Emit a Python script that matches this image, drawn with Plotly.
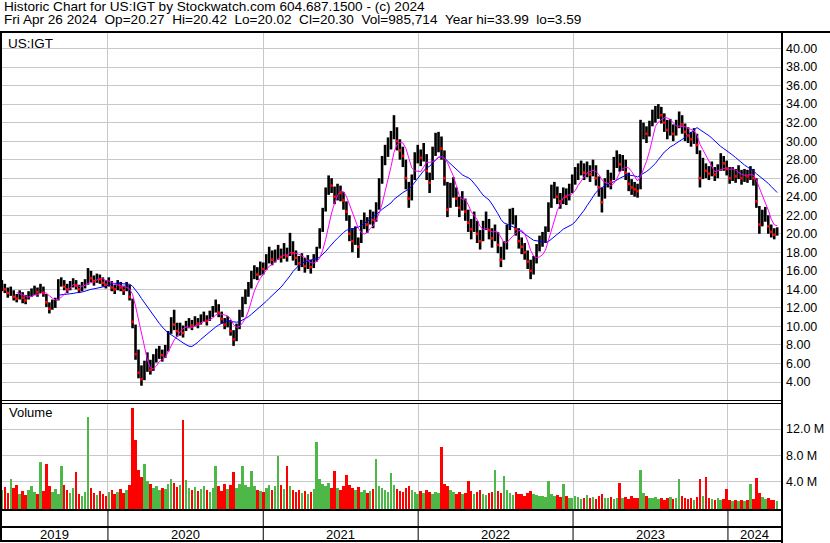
import pandas as pd
import plotly.graph_objects as go

# ---------------- data (weekly samples) ----------------
week_close = [
    14.3,14.0,13.6,13.8,13.2,13.0,13.5,13.1,12.8,13.4,13.6,13.9,13.7,
    14.1,13.6,12.6,11.9,12.4,12.5,14.6,14.9,14.3,14.0,14.5,14.8,14.4,
    14.0,14.3,14.6,15.8,15.2,14.9,15.3,15.1,14.7,14.5,14.9,14.2,14.0,
    14.6,14.2,13.9,14.4,13.2,10.5,7.0,5.0,4.3,5.5,6.0,5.3,6.4,
    6.8,7.2,6.9,7.4,8.9,10.6,10.2,9.5,10.0,9.3,10.0,10.4,10.1,
    10.6,10.3,10.8,11.0,10.6,11.2,11.6,12.2,11.5,10.8,10.2,10.6,9.5,
    8.6,9.8,11.2,12.6,13.5,14.2,15.4,16.0,15.6,16.4,16.2,17.0,17.8,
    17.2,17.6,18.0,17.5,18.2,17.6,18.8,17.9,17.4,16.8,17.2,16.5,17.0,
    16.4,17.1,17.8,19.5,21.5,24.0,25.5,25.2,24.0,24.6,24.4,23.6,22.4,
    20.0,19.2,19.8,18.6,20.8,21.4,21.0,21.8,21.5,22.5,25.0,27.5,28.8,
    29.4,30.2,31.8,30.0,29.0,28.4,26.0,23.8,25.5,28.0,28.8,28.2,29.0,
    26.8,25.5,28.5,29.8,30.0,29.2,26.0,22.6,24.5,25.0,23.8,22.8,23.6,
    22.4,21.2,20.5,21.4,20.0,19.2,20.6,21.5,20.4,19.5,20.2,18.8,17.2,
    18.4,20.2,21.8,22.0,20.5,19.2,18.6,18.0,17.0,16.0,16.8,18.2,19.0,
    19.4,20.0,22.5,24.4,24.8,24.0,23.5,24.2,24.0,24.6,25.5,26.2,26.8,
    27.2,26.6,27.0,26.4,27.2,26.0,25.0,23.4,25.2,26.0,25.6,27.4,28.0,
    27.5,27.8,26.6,25.4,25.0,24.8,24.6,30.5,31.2,30.8,31.4,32.6,33.0,
    33.4,32.8,32.0,31.2,31.6,30.8,31.5,32.6,31.8,31.0,30.6,30.2,30.6,
    29.6,26.0,27.4,26.8,26.5,27.0,26.4,26.8,28.0,27.6,27.0,26.0,26.5,
    26.2,26.8,26.0,26.4,26.2,26.6,26.0,23.5,21.0,21.8,22.2,20.8,20.2,
    19.9,20.3,
]
week_high = [
    15.0,14.6,14.2,14.3,13.9,13.5,13.9,13.7,13.4,13.8,14.1,14.4,14.2,
    14.6,14.3,13.5,12.6,12.9,13.1,15.1,15.3,15.0,14.6,14.9,15.2,15.0,
    14.5,14.8,15.1,16.3,16.0,15.5,15.7,15.6,15.3,15.0,15.3,14.9,14.5,
    15.0,14.8,14.4,14.8,14.5,13.0,10.2,7.5,5.8,6.3,7.2,6.4,7.0,
    7.6,7.9,7.5,8.0,9.5,11.0,11.8,10.4,10.4,10.1,10.6,10.9,10.7,
    11.1,10.9,11.3,11.6,11.2,11.7,12.2,12.9,12.4,11.6,10.9,11.1,10.7,
    9.6,10.3,11.8,13.2,14.0,14.8,16.0,16.6,16.4,17.0,16.9,17.8,18.6,
    18.2,18.3,18.8,18.4,19.0,18.5,20.1,19.2,18.2,17.6,17.9,17.4,17.7,
    17.2,17.8,18.6,20.6,22.8,25.0,26.3,26.0,25.1,25.4,25.2,24.5,23.5,
    22.0,20.6,20.8,19.6,21.5,22.3,21.8,22.6,22.4,23.4,26.0,28.4,29.6,
    30.4,31.1,32.8,31.5,30.2,29.4,28.0,25.6,26.4,28.8,29.6,29.1,29.8,
    28.6,26.6,29.4,30.9,31.0,30.5,29.0,25.6,25.5,26.1,25.0,24.0,24.6,
    23.8,22.6,21.6,22.4,21.4,20.4,21.4,22.4,21.6,20.6,21.0,20.2,18.6,
    19.2,21.0,22.7,22.8,22.0,20.6,19.6,19.0,18.2,17.2,17.6,18.9,19.8,
    20.2,20.8,23.4,25.3,25.6,25.1,24.4,25.0,24.9,25.4,26.4,27.2,27.6,
    27.9,27.6,27.8,27.4,28.0,27.4,26.2,25.0,26.0,26.9,26.6,28.3,29.0,
    28.6,28.5,28.0,26.6,25.9,25.6,25.4,32.3,32.0,31.6,32.2,33.4,33.8,
    34.0,33.7,33.0,32.3,32.4,31.8,32.3,33.2,32.8,31.9,31.5,31.0,31.4,
    30.8,29.0,28.2,27.6,27.3,27.8,27.2,27.5,28.7,28.4,27.9,27.2,27.2,
    27.0,27.4,26.9,27.0,26.9,27.3,27.0,26.0,23.0,22.6,22.9,22.0,21.0,
    20.6,20.7,
]
week_low = [
    13.8,13.6,13.1,13.3,12.8,12.6,12.9,12.5,12.4,12.9,13.2,13.4,13.2,
    13.6,13.2,12.1,11.4,11.8,12.0,12.8,14.3,13.9,13.6,13.9,14.2,14.0,
    13.6,13.8,14.1,14.5,14.8,14.4,14.7,14.6,14.3,14.1,14.3,13.8,13.5,
    13.9,13.8,13.4,13.8,12.8,9.8,6.4,4.4,3.6,4.2,5.1,4.8,5.2,
    6.1,6.5,6.2,6.6,7.3,9.2,9.6,8.9,9.0,8.8,9.5,9.8,9.6,
    10.0,9.8,10.2,10.5,10.1,10.6,11.0,11.5,11.0,10.3,9.7,9.9,9.0,
    7.9,8.4,9.7,11.0,12.4,13.2,14.1,15.1,15.0,15.5,15.6,16.1,16.8,
    16.6,16.9,17.2,16.9,17.3,17.0,17.6,17.1,16.6,16.0,16.4,15.8,16.2,
    15.7,16.3,17.0,18.4,20.2,22.4,24.2,24.4,23.2,23.6,23.5,22.6,21.4,
    19.2,18.0,18.8,17.4,19.0,20.5,20.1,21.0,20.6,21.3,22.6,25.4,27.4,
    28.3,29.1,30.2,29.0,28.0,27.2,24.8,22.8,23.6,25.8,27.6,27.3,27.8,
    25.8,24.4,25.8,28.4,28.8,28.0,25.2,21.8,22.8,23.9,22.9,21.8,22.5,
    21.4,20.2,19.4,20.2,19.0,18.3,19.2,20.4,19.4,18.5,19.2,17.9,16.4,
    17.2,18.3,20.4,21.0,19.8,18.4,17.8,17.2,16.2,15.1,15.6,16.8,18.1,
    18.6,19.0,20.2,22.8,23.8,23.2,22.7,23.2,23.1,23.6,24.4,25.3,25.8,
    26.3,25.8,26.1,25.6,26.2,25.2,24.0,22.3,23.8,25.0,24.8,25.8,27.1,
    26.7,26.8,25.8,24.6,24.2,24.0,23.9,24.8,30.2,29.8,30.5,31.6,32.0,
    32.4,31.9,31.0,30.2,30.6,30.0,30.6,31.4,30.8,30.0,29.8,29.4,29.7,
    28.6,25.0,25.9,26.0,25.8,26.2,25.7,26.0,26.8,26.8,26.3,25.4,25.7,
    25.5,25.9,25.3,25.6,25.5,25.8,25.2,22.8,20.0,20.8,21.3,20.0,19.6,
    19.4,19.8,
]
week_volume_m = [
    2.6,3.1,2.2,4.3,2.9,3.5,2.1,2.5,1.9,2.7,3.2,2.3,2.0,
    7.0,2.5,6.6,3.3,2.4,2.8,2.1,6.4,3.4,2.6,2.2,2.9,5.4,
    2.0,1.8,2.4,13.9,3.0,2.2,1.9,2.5,2.0,1.7,2.3,2.6,2.1,
    2.4,2.8,2.2,2.6,3.4,15.3,10.3,5.8,4.6,6.6,4.0,3.6,3.0,
    3.2,2.7,3.0,2.8,3.6,4.4,3.8,3.1,3.4,13.4,4.2,3.0,2.6,
    3.1,2.5,2.8,3.3,2.6,2.4,3.0,6.3,3.2,2.5,3.6,2.8,3.4,
    5.4,3.0,3.6,6.3,3.5,3.1,5.6,3.3,2.7,2.5,2.4,3.0,3.4,
    2.6,3.2,7.8,3.5,2.8,6.3,3.3,2.7,2.3,2.6,2.2,2.5,2.1,
    2.4,2.8,10.0,4.4,3.6,3.2,3.8,3.0,5.6,2.9,2.6,3.3,4.9,
    3.4,2.9,2.6,3.1,2.4,2.7,2.2,2.5,2.8,7.4,3.3,3.0,2.6,
    2.4,5.2,3.4,2.8,2.5,2.3,3.0,3.2,2.7,2.4,2.1,2.5,2.2,
    2.6,2.3,2.0,2.4,2.2,9.2,3.6,3.2,2.6,2.3,2.1,2.4,2.0,
    2.2,4.0,2.5,2.1,2.3,2.6,2.0,1.9,2.2,2.4,5.8,2.5,2.2,
    4.8,2.6,2.2,1.9,2.3,2.1,2.0,1.8,2.2,2.5,2.0,1.9,1.7,
    1.8,1.6,4.1,2.0,1.7,1.9,1.6,3.6,1.8,1.5,1.4,1.7,1.6,
    1.3,1.5,1.9,1.4,1.6,1.3,1.8,2.1,1.5,1.4,1.6,1.3,1.5,
    3.8,1.4,1.6,1.3,1.7,1.5,1.4,5.8,2.2,1.8,1.5,1.4,1.6,
    1.3,1.5,1.2,1.4,1.6,1.3,1.5,4.3,1.7,1.4,1.3,1.5,1.2,
    1.6,4.3,1.8,4.6,1.5,1.3,1.2,1.4,1.1,1.3,2.8,1.2,1.0,
    1.1,0.9,1.2,1.0,1.1,3.6,1.3,4.5,2.2,1.6,1.3,1.4,1.2,
    1.1,1.0,
]
year_labels = ["2019", "2020", "2021", "2022", "2023", "2024"]
price_ticks = list(range(4, 41, 2))
volume_ticks = [4, 8, 12]
volume_tick_text = ["4.0 M", "8.0 M", "12.0 M"]

assert len(week_close) == len(week_high) == len(week_low) == len(week_volume_m), (
    len(week_close), len(week_high), len(week_low), len(week_volume_m))

# ---------------- derived ----------------
dates = pd.date_range("2019-04-26", periods=len(week_close), freq="7D")
close_s = pd.Series(week_close)
ma_fast = close_s.rolling(6).mean()
ma_slow = close_s.rolling(20).mean()
up = [True] + [week_close[i] >= week_close[i - 1] for i in range(1, len(week_close))]
vol_colors = ["#4db848" if u else "#ff0000" for u in up]

bar_x, bar_y = [], []
for d, h, l in zip(dates, week_high, week_low):
    bar_x += [d, d, None]
    bar_y += [l, h, None]

down_x = [d for d, u in zip(dates, up) if not u]
down_y = [c for c, u in zip(week_close, up) if not u]

W, H = 830, 543
def fy(p):
    return 1 - p / H
def fx(p):
    return p / W

x_start, x_end = pd.Timestamp("2019-04-24"), pd.Timestamp("2024-05-05")
year_bounds = [pd.Timestamp(f"{y}-01-01") for y in year_labels[1:]]
FONT = "Arial, Liberation Sans, sans-serif"

fig = go.Figure()
fig.add_trace(go.Scatter(x=bar_x, y=bar_y, mode="lines", line=dict(color="black", width=2.6),
                         xaxis="x", yaxis="y", hoverinfo="skip", connectgaps=False))
fig.add_trace(go.Scatter(x=dates, y=ma_slow, mode="lines", line=dict(color="#0000ff", width=1),
                         xaxis="x", yaxis="y"))
fig.add_trace(go.Scatter(x=dates, y=ma_fast, mode="lines", line=dict(color="#ff00ff", width=1),
                         xaxis="x", yaxis="y"))
fig.add_trace(go.Scatter(x=down_x, y=down_y, mode="markers",
                         marker=dict(color="#ff0000", size=2.6, symbol="square", line=dict(width=0)),
                         xaxis="x", yaxis="y"))
fig.add_trace(go.Bar(x=dates, y=[v + 0.41 for v in week_volume_m], base=-0.41,
                     marker=dict(color=vol_colors, line=dict(width=0)),
                     width=0.85 * 7 * 86400000, xaxis="x2", yaxis="y2"))

grid = "#c8c8c8"
xcommon = dict(type="date", range=[x_start, x_end], domain=[fx(1), fx(781)],
               tickvals=year_bounds, showticklabels=False, ticks="",
               showgrid=True, gridcolor=grid, gridwidth=1, zeroline=False, showline=False,
               fixedrange=True)
fig.update_layout(
    width=W, height=H, margin=dict(l=0, r=0, t=0, b=0),
    paper_bgcolor="white", plot_bgcolor="white", showlegend=False, bargap=0,
    font=dict(family=FONT, size=12.5, color="black"),
    xaxis=dict(anchor="y", **xcommon),
    xaxis2=dict(anchor="y2", matches="x", **xcommon),
    yaxis=dict(domain=[fy(401), fy(32)], range=[1.95, 41.78], side="right", anchor="x",
               tickvals=price_ticks, ticktext=[f"{v:.2f}" for v in price_ticks],
               ticks="", ticklabelstandoff=4, showgrid=True, gridcolor=grid, gridwidth=1,
               zeroline=False, showline=False, fixedrange=True,
               tickfont=dict(family=FONT, size=12.5, color="black")),
    yaxis2=dict(domain=[fy(510), fy(403)], range=[-0.41, 16.0], side="right", anchor="x2",
                tickvals=volume_ticks, ticktext=volume_tick_text,
                ticks="", ticklabelstandoff=4, showgrid=True, gridcolor=grid, gridwidth=1,
                zeroline=False, showline=False, fixedrange=True,
                tickfont=dict(family=FONT, size=12.5, color="black")),
)

shapes = []
def hline(y, x0=0, x1=781, w=2):
    shapes.append(dict(type="line", xref="paper", yref="paper", x0=fx(x0), x1=fx(x1),
                       y0=fy(y), y1=fy(y), line=dict(color="black", width=w), layer="above"))
def vrect(x0, x1, y0, y1):
    shapes.append(dict(type="rect", xref="paper", yref="paper", x0=fx(x0), x1=fx(x1),
                       y0=fy(y1), y1=fy(y0), fillcolor="black", line=dict(width=0), layer="above"))

hline(32, 0, 830, 2)
hline(400.5, 0, 781, 1)
hline(403.5, 0, 781, 1)
hline(510, 0, 781, 2)
hline(527, 0, 781, 2)
hline(541, 0, 781, 2)
vrect(0, 2, 32, 542)
vrect(781, 783, 32, 543)
for yb in year_bounds:
    shapes.append(dict(type="line", xref="x", yref="paper", x0=yb, x1=yb,
                       y0=fy(541), y1=fy(510), line=dict(color="black", width=1), layer="above"))
fig.update_layout(shapes=shapes)

HEAD = 13.6
ann = []
ann.append(dict(text="Historic Chart for US:IGT by Stockwatch.com 604.687.1500 - (c) 2024",
                x=fx(1.5), y=fy(6.3), xref="paper", yref="paper", xanchor="left", yanchor="middle",
                showarrow=False, font=dict(family=FONT, size=HEAD, color="black")))
sp = "\u00a0\u00a0"
line2 = ("Fri Apr 26 2024" + sp + "Op=20.27" + sp + "Hi=20.42" + sp + "Lo=20.02" + sp +
         "Cl=20.30" + sp + "Vol=985,714" + sp + "Year hi=33.99" + sp + "lo=3.59")
ann.append(dict(text=line2, x=fx(1.5), y=fy(19.2), xref="paper", yref="paper",
                xanchor="left", yanchor="middle", showarrow=False,
                font=dict(family=FONT, size=HEAD, color="black")))
ann.append(dict(text="US:IGT", x=fx(6), y=fy(43), xref="paper", yref="paper",
                xanchor="left", yanchor="middle", showarrow=False,
                font=dict(family=FONT, size=13.5, color="black")))
ann.append(dict(text="Volume", x=fx(7), y=fy(413), xref="paper", yref="paper",
                xanchor="left", yanchor="middle", showarrow=False,
                font=dict(family=FONT, size=13, color="black")))
bounds = [x_start] + year_bounds + [x_end]
for i, lab in enumerate(year_labels):
    mid = bounds[i] + (bounds[i + 1] - bounds[i]) / 2
    ann.append(dict(text=lab, x=mid, y=fy(534.5), xref="x", yref="paper",
                    xanchor="center", yanchor="middle", showarrow=False,
                    font=dict(family=FONT, size=13, color="black")))
fig.update_layout(annotations=ann)

fig.write_html("out.html", config={"displayModeBar": False},
               post_script="document.body.style.margin='0';document.body.style.padding='0';")
